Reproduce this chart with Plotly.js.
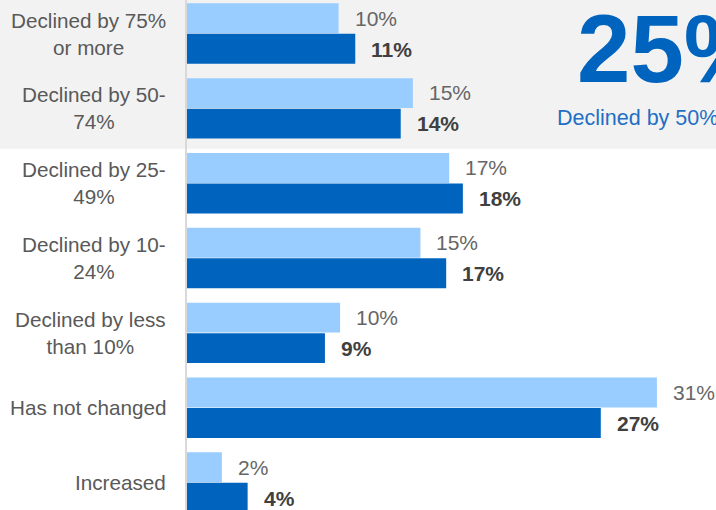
<!DOCTYPE html>
<html>
<head>
<meta charset="utf-8">
<script src="https://cdn.plot.ly/plotly-3.0.1.min.js"></script>
<style>html,body{margin:0;padding:0;background:#fff;}#chart{width:716px;height:510px;}</style>
</head>
<body>
<div id="chart"></div>
<script>
const categories = ["Declined by 75% or more", "Declined by 50-74%", "Declined by 25-49%", "Declined by 10-24%", "Declined by less than 10%", "Has not changed", "Increased"];
const categoryLabels = ["Declined by 75%<br>or more", "Declined by 50-<br>74%", "Declined by 25-<br>49%", "Declined by 10-<br>24%", "Declined by less<br>than 10%", "Has not changed", "Increased"];
const seriesLight = [10.0, 14.9, 17.3, 15.4, 10.1, 31.0, 2.3];
const seriesDark = [11.1, 14.1, 18.2, 17.1, 9.1, 27.3, 4.0];
const calloutValue = "25%";
const calloutText = "Declined by 50% or more";

const FONT = "Liberation Sans, Arial, sans-serif";
const LIGHT = "#99ccff", DARK = "#0064be";

const traces = [
  {type: "bar", orientation: "h", y: categories, x: seriesLight, marker: {color: LIGHT}, hoverinfo: "none", name: "A"},
  {type: "bar", orientation: "h", y: categories, x: seriesDark, marker: {color: DARK}, hoverinfo: "none", name: "B"}
];

const annotations = [];
categories.forEach((c, i) => {
  annotations.push({xref: "paper", yref: "y", x: (168 - 187) / 529, y: c, xanchor: "right", yanchor: "middle", align: "center",
    text: categoryLabels[i], showarrow: false, font: {family: FONT, size: 20.7, color: "#595959"}});
  annotations.push({xref: "x", yref: "y", x: seriesLight[i], y: c, xanchor: "left", yanchor: "middle", xshift: 14, yshift: 15.5,
    text: Math.round(seriesLight[i]) + "%", showarrow: false, font: {family: FONT, size: 21, color: "#666666"}});
  annotations.push({xref: "x", yref: "y", x: seriesDark[i], y: c, xanchor: "left", yanchor: "middle", xshift: 14, yshift: -15.5,
    text: "<b>" + Math.round(seriesDark[i]) + "%</b>", showarrow: false, font: {family: FONT, size: 21, color: "#404040"}});
});
annotations.push({xref: "paper", yref: "paper", x: (575 - 187) / 529, y: 1 - 49 / 510, xanchor: "left", yanchor: "middle",
  text: "<b>" + calloutValue + "</b>", showarrow: false, font: {family: FONT, size: 96, color: "#0064be"}});
annotations.push({xref: "paper", yref: "paper", x: (555 - 187) / 529, y: 1 - 118 / 510, xanchor: "left", yanchor: "middle",
  text: calloutText, showarrow: false, font: {family: FONT, size: 21.5, color: "#1f6fc5"}});

const layout = {
  width: 716, height: 510,
  margin: {l: 187, r: 0, t: 0, b: 0, pad: 0},
  paper_bgcolor: "#ffffff", plot_bgcolor: "rgba(0,0,0,0)",
  barmode: "group", bargap: 0.185, bargroupgap: 0.02,
  showlegend: false,
  xaxis: {range: [0, 34.9], showgrid: false, zeroline: false, showticklabels: false, showline: false, fixedrange: true},
  yaxis: {type: "category", categoryarray: categories, range: [6.367, -0.448], showgrid: false, zeroline: false,
    showticklabels: false, ticks: "", showline: true, linecolor: "#d9d9d9", linewidth: 2, fixedrange: true},
  shapes: [{type: "rect", xref: "paper", yref: "y", x0: -187 / 529, x1: 1, y0: -1, y1: 1.54, fillcolor: "#f2f2f2", line: {width: 0}, layer: "below"}],
  annotations: annotations,
  font: {family: FONT}
};

Plotly.newPlot("chart", traces, layout, {staticPlot: true, displayModeBar: false});
</script>
</body>
</html>
